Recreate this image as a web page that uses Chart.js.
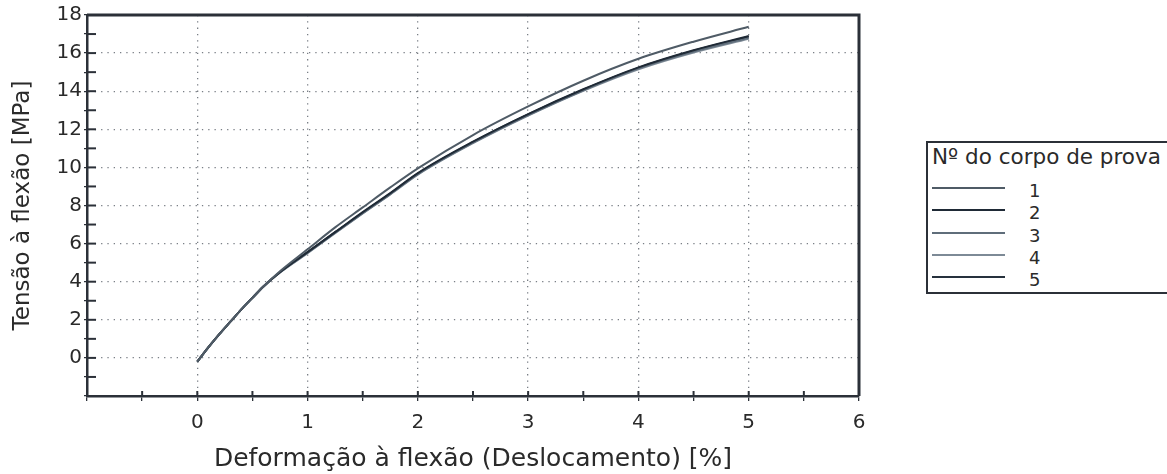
<!DOCTYPE html>
<html>
<head>
<meta charset="utf-8">
<script src="https://cdn.jsdelivr.net/npm/chart.js@4/dist/chart.umd.min.js"></script>
<style>
  html, body { margin: 0; padding: 0; background: #fff; overflow: hidden; }
  #caixa { position: relative; width: 1167px; height: 474px; }
  #legenda {
    position: absolute; left: 926px; top: 141px; width: 270px; height: 149px;
    border: 2px solid #2b3038; background: #fff;
    font-family: "DejaVu Sans", Verdana, sans-serif; color: #2a2a2a;
  }
  #legenda .titulo { position: absolute; left: 4px; top: 1px; font-size: 21.5px; line-height: 26px; white-space: nowrap; }
  #legenda .linha { position: absolute; left: 4px; width: 73px; height: 0; }
  #legenda .rotulo { position: absolute; left: 101px; font-size: 18px; line-height: 22px; }
</style>
</head>
<body>
<div id="caixa">
  <canvas id="grafico" width="1167" height="474"></canvas>
  <div id="legenda"><div class="titulo">Nº do corpo de prova</div></div>
</div>
<script>
// dados
const deformacao = [0, 0.1, 0.2, 0.3, 0.4, 0.5, 0.6, 0.75, 1, 1.25, 1.5, 1.75, 2, 2.5, 3, 3.5, 4, 4.5, 5];
const cp1 = [-0.2, 0.55, 1.25, 1.9, 2.55, 3.15, 3.75, 4.55, 5.7, 6.85, 7.9, 8.95, 9.95, 11.7, 13.2, 14.55, 15.7, 16.6, 17.38];
const cp2 = [-0.2, 0.55, 1.25, 1.9, 2.55, 3.15, 3.75, 4.5, 5.55, 6.6, 7.65, 8.65, 9.7, 11.35, 12.8, 14.1, 15.25, 16.15, 16.9];
const cp3 = [-0.2, 0.55, 1.25, 1.9, 2.55, 3.15, 3.75, 4.5, 5.52, 6.57, 7.6, 8.6, 9.65, 11.3, 12.75, 14.05, 15.2, 16.08, 16.8];
const cp4 = [-0.2, 0.55, 1.25, 1.9, 2.55, 3.15, 3.75, 4.48, 5.5, 6.55, 7.58, 8.58, 9.62, 11.27, 12.72, 14.02, 15.15, 16.03, 16.75];
const cp5 = [-0.2, 0.55, 1.25, 1.9, 2.55, 3.15, 3.75, 4.5, 5.55, 6.6, 7.62, 8.63, 9.68, 11.33, 12.78, 14.08, 15.22, 16.12, 16.86];

const nomes = ["1", "2", "3", "4", "5"];
const series = [cp1, cp2, cp3, cp4, cp5];
const cores = ["#4f5b66", "#1f2a36", "#5f6d7a", "#7d8a96", "#26313d"];

const yTicksRotulo = [0, 2, 4, 6, 8, 10, 12, 14, 16, 18];
const xTicksRotulo = [0, 1, 2, 3, 4, 5, 6];

const fonte = "'DejaVu Sans', Verdana, sans-serif";
const corTexto = "#2a2a2a";
const corEixo = "#2b3038";

// moldura e marcas que cruzam o eixo
const moldura = {
  id: "moldura",
  afterDraw(chart) {
    const { ctx, chartArea: a, scales: { x, y } } = chart;
    ctx.save();
    ctx.strokeStyle = corEixo;
    ctx.lineWidth = 2;
    x.ticks.forEach((t) => {
      const px = x.getPixelForValue(t.value);
      ctx.beginPath();
      ctx.moveTo(px, a.bottom);
      ctx.lineTo(px, a.bottom - 5);
      ctx.stroke();
    });
    y.ticks.forEach((t) => {
      const py = y.getPixelForValue(t.value);
      ctx.beginPath();
      ctx.moveTo(a.left, py);
      ctx.lineTo(a.left + 9, py);
      ctx.stroke();
    });
    ctx.lineWidth = 3;
    ctx.beginPath();
    ctx.moveTo(a.left, a.top);
    ctx.lineTo(a.right, a.top);
    ctx.lineTo(a.right, a.bottom);
    ctx.stroke();
    ctx.restore();
  },
};

new Chart(document.getElementById("grafico"), {
  type: "line",
  data: {
    datasets: series.map((s, i) => ({
      label: nomes[i],
      data: deformacao.map((d, j) => ({ x: d, y: s[j] })),
      borderColor: cores[i],
      borderWidth: 2,
      pointRadius: 0,
      cubicInterpolationMode: "monotone",
      fill: false,
    })),
  },
  options: {
    responsive: false,
    animation: false,
    layout: { padding: { left: 0, top: 15, right: 308, bottom: 0 } },
    plugins: { legend: { display: false }, tooltip: { enabled: false } },
    scales: {
      x: {
        type: "linear",
        min: -1,
        max: 6,
        afterFit: (scale) => { scale.height = 78; },
        ticks: {
          stepSize: 0.5,
          autoSkip: false,
          maxRotation: 0,
          padding: 10,
          color: corTexto,
          font: { family: fonte, size: 20 },
          callback: (v) => (xTicksRotulo.includes(v) ? String(v) : ""),
        },
        grid: {
          color: (c) => (Number.isInteger(c.tick.value) && c.tick.value >= 0 && c.tick.value <= 5 ? "#7a7f86" : "rgba(0,0,0,0)"),
          tickColor: corEixo,
          tickLength: 5,
          lineWidth: 1.3,
        },
        border: { color: corEixo, width: 2.5, dash: [1.3, 5] },
        title: {
          display: true,
          text: "Deformação à flexão (Deslocamento) [%]",
          color: corTexto,
          font: { family: fonte, size: 25 },
          padding: { top: 0, bottom: 0 },
        },
      },
      y: {
        min: -2,
        max: 18,
        afterFit: (scale) => { scale.width = 87; },
        ticks: {
          stepSize: 1,
          autoSkip: false,
          padding: 2,
          color: corTexto,
          font: { family: fonte, size: 20 },
          callback: (v) => (yTicksRotulo.includes(v) ? String(v) : ""),
        },
        grid: {
          color: (c) => (c.tick.value % 2 === 0 && c.tick.value >= 0 && c.tick.value <= 16 ? "#7a7f86" : "rgba(0,0,0,0)"),
          tickColor: corEixo,
          tickLength: 3,
          lineWidth: 1.3,
        },
        border: { color: corEixo, width: 2.5, dash: [1.3, 5] },
        title: {
          display: true,
          text: "Tensão à flexão [MPa]",
          color: corTexto,
          font: { family: fonte, size: 23 },
          padding: { top: 9, bottom: 0 },
        },
      },
    },
  },
  plugins: [moldura],
});

// legenda em HTML
const legenda = document.getElementById("legenda");
nomes.forEach((n, i) => {
  const yLinha = 45 + i * 22.3;
  const linha = document.createElement("div");
  linha.className = "linha";
  linha.style.top = yLinha - 1 + "px";
  linha.style.borderTop = "2px solid " + cores[i];
  legenda.appendChild(linha);
  const rotulo = document.createElement("div");
  rotulo.className = "rotulo";
  rotulo.style.top = yLinha - 8 + "px";
  rotulo.textContent = n;
  legenda.appendChild(rotulo);
});
</script>
</body>
</html>
